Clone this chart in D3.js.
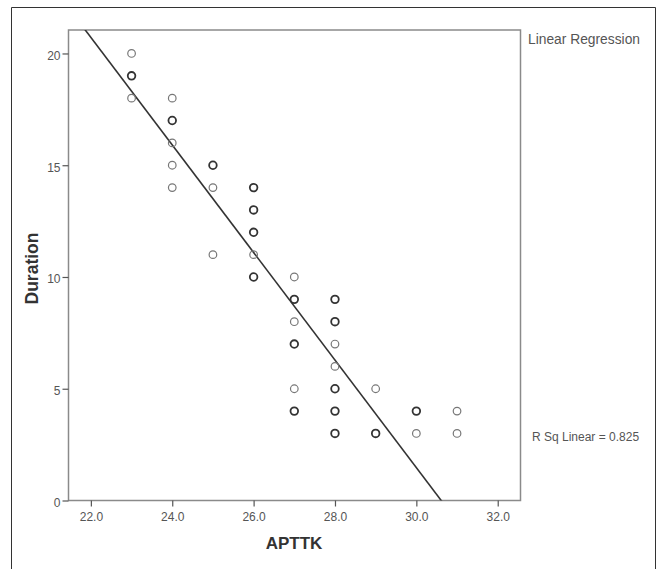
<!DOCTYPE html>
<html><head><meta charset="utf-8">
<script src="https://cdn.jsdelivr.net/npm/d3@7"></script>
<style>body{margin:0;background:#fff}svg{display:block}</style>
</head><body>
<script>
// Data: x (APTTK), y (Duration), count of overlapping cases at that point
const apttk    = [23,23,23, 24,24,24,24,24, 25,25,25, 26,26,26,26,26, 27,27,27,27,27,27, 28,28,28,28,28,28,28, 29,29, 30,30, 31,31];
const duration = [20,19,18, 18,17,16,15,14, 15,14,11, 14,13,12,11,10, 10,9,8,7,5,4,        9,8,7,6,5,4,3,         5,3,   4,3,   4,3];
const counts   = [1,2,1,    1,2,1,1,1,    2,1,1,    2,2,2,1,2,     1,2,1,2,1,2,          2,2,1,1,2,2,2,         1,2,   2,1,   1,1];
const xTicks = [22,24,26,28,30,32];
const yTicks = [0,5,10,15,20];
const fitIntercept = 73.65, fitSlope = -2.406;
const rSqLabel = "R Sq Linear = 0.825";
const legendTitle = "Linear Regression";
const xTitle = "APTTK", yTitle = "Duration";

const W = 660, H = 569;
const svg = d3.select("body").append("svg").attr("width", W).attr("height", H);
const font = "'Liberation Sans', Arial, sans-serif";

// outer frame (bottom edge cut off)
svg.append("path").attr("d", `M11.5,${H} V7.5 H655.5 V${H}`)
  .attr("fill","none").attr("stroke","#333").attr("stroke-width",1);

const L = 68.5, R = 520.5, T = 30, B = 500.5;
const x = d3.scaleLinear().domain([21.45, 32.56]).range([L, R]);
const y = d3.scaleLinear().domain([0, 21.05]).range([B, T]);

// plot frame
svg.append("rect").attr("x", L).attr("y", T).attr("width", R-L).attr("height", B-T)
  .attr("fill","none").attr("stroke","#8a8a8a").attr("stroke-width",1.5);

// axes
const xAxis = svg.append("g").attr("transform",`translate(0,${B})`)
  .call(d3.axisBottom(x).tickValues(xTicks).tickFormat(d3.format(".1f")).tickSize(6).tickSizeOuter(0));
const yAxis = svg.append("g").attr("transform",`translate(${L},0)`)
  .call(d3.axisLeft(y).tickValues(yTicks).tickFormat(d3.format("d")).tickSize(6).tickSizeOuter(0));
[xAxis, yAxis].forEach(g => {
  g.select(".domain").remove();
  g.selectAll(".tick line").attr("stroke","#555").attr("stroke-width",1.2);
  g.selectAll(".tick text").attr("fill","#555").style("font-family",font).style("font-size","12px");
});
xAxis.selectAll(".tick text").attr("dy",0).attr("y",20.5);
yAxis.selectAll(".tick text").attr("x",-8).attr("dy","0.5em");

// regression line clipped to plot area
svg.append("clipPath").attr("id","pc").append("rect")
  .attr("x",L).attr("y",T).attr("width",R-L).attr("height",B-T);
const xs = [x.domain()[0], x.domain()[1]];
svg.append("line").attr("clip-path","url(#pc)")
  .attr("x1", x(xs[0])).attr("y1", y(fitIntercept + fitSlope*xs[0]))
  .attr("x2", x(xs[1])).attr("y2", y(fitIntercept + fitSlope*xs[1]))
  .attr("stroke","#333").attr("stroke-width",1.6);

// points
const pts = apttk.map((v,i)=>({x:v, y:duration[i], n:counts[i]}));
svg.append("g").selectAll("circle").data(pts).join("circle")
  .attr("cx", d=>x(d.x)).attr("cy", d=>y(d.y)).attr("r",3.8)
  .attr("fill","none")
  .attr("stroke", d=> d.n>1 ? "#333" : "#777")
  .attr("stroke-width", d=> d.n>1 ? 1.8 : 1.2);

// titles
svg.append("text").attr("x", 294).attr("y", 549).attr("text-anchor","middle")
  .style("font-family",font).style("font-size","17px").style("font-weight","bold").attr("fill","#333")
  .text(xTitle);
svg.append("text").attr("transform","translate(38,268.5) rotate(-90)").attr("text-anchor","middle")
  .style("font-family",font).style("font-size","17.5px").style("font-weight","bold").attr("fill","#333")
  .text(yTitle);

svg.append("text").attr("x",528).attr("y",44)
  .style("font-family",font).style("font-size","13.8px").attr("fill","#555").text(legendTitle);
svg.append("text").attr("x",532).attr("y",441)
  .style("font-family",font).style("font-size","12px").attr("fill","#555").text(rSqLabel);
</script>
</body></html>
